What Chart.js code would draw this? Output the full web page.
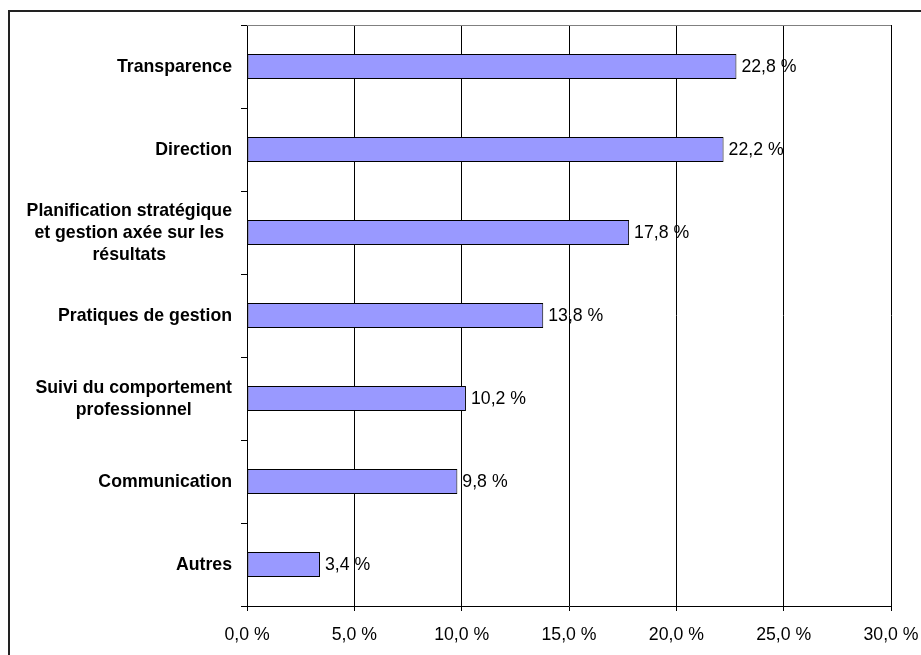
<!DOCTYPE html>
<html>
<head>
<meta charset="utf-8">
<script src="https://cdn.jsdelivr.net/npm/chart.js@4/dist/chart.umd.min.js"></script>
<style>
  html, body { margin: 0; padding: 0; background: #fff; }
  #wrap { width: 921px; height: 655px; }
</style>
</head>
<body>
<div id="wrap"><canvas id="chart" width="921" height="655"></canvas></div>
<script>
// --- data ---
const categories = [
    ['Transparence'],
    ['Direction'],
    ['Planification stratégique', 'et gestion axée sur les', 'résultats'],
    ['Pratiques de gestion'],
    ['Suivi du comportement', 'professionnel'],
    ['Communication'],
    ['Autres']
];
const shares = [22.8, 22.2, 17.8, 13.8, 10.2, 9.8, 3.4];
const xTicks = [0, 5, 10, 15, 20, 25, 30];

const FONT = '"Liberation Sans", Arial, sans-serif';
const FSIZE = 17.7;
const fmt = v => v.toFixed(1).replace('.', ',') + ' %';

// white page + outer frame (runs off the right/bottom edge like the original)
const framePlugin = {
    id: 'frame',
    beforeDraw(chart) {
        const ctx = chart.ctx;
        ctx.save();
        ctx.fillStyle = '#fff';
        ctx.fillRect(0, 0, chart.width, chart.height);
        ctx.strokeStyle = '#222';
        ctx.lineWidth = 2;
        ctx.strokeRect(9, 11, 1000, 1000);
        ctx.restore();
    },
    beforeDatasetsDraw(chart) {
        const { ctx, chartArea: a } = chart;
        ctx.save();
        ctx.strokeStyle = '#808080';
        ctx.lineWidth = 1;
        ctx.beginPath();
        ctx.moveTo(a.left, Math.round(a.top) + 0.5);
        ctx.lineTo(a.right, Math.round(a.top) + 0.5);
        ctx.stroke();
        ctx.restore();
    }
};

// category labels: lines centred on each other, block right-aligned to the axis
const yLabelPlugin = {
    id: 'yLabels',
    afterDraw(chart) {
        const ctx = chart.ctx;
        const yScale = chart.scales.y;
        const right = yScale.right - 15;
        const lineH = 22;
        ctx.save();
        ctx.font = 'bold ' + FSIZE + 'px ' + FONT;
        ctx.fillStyle = '#000';
        ctx.textAlign = 'center';
        ctx.textBaseline = 'middle';
        categories.forEach((lines, i) => {
            const yc = yScale.getPixelForValue(i) + 1;
            const maxW = Math.max(...lines.map(l => ctx.measureText(l).width));
            const cx = right - maxW / 2;
            const y0 = yc - (lines.length - 1) * lineH / 2;
            lines.forEach((l, j) => ctx.fillText(l, cx, y0 + j * lineH));
        });
        ctx.restore();
    }
};

// value labels at the end of each bar
const valueLabelPlugin = {
    id: 'valueLabels',
    afterDatasetsDraw(chart) {
        const ctx = chart.ctx;
        const meta = chart.getDatasetMeta(0);
        ctx.save();
        ctx.font = FSIZE + 'px ' + FONT;
        ctx.fillStyle = '#000';
        ctx.textAlign = 'left';
        ctx.textBaseline = 'middle';
        meta.data.forEach((bar, i) => {
            ctx.fillText(fmt(shares[i]), bar.x + 5, bar.y + 1);
        });
        ctx.restore();
    }
};

new Chart(document.getElementById('chart'), {
    type: 'bar',
    data: {
        labels: categories,
        datasets: [{
            data: shares,
            backgroundColor: '#9999ff',
            borderColor: '#000',
            borderWidth: 1,
            borderSkipped: false,
            categoryPercentage: 1,
            barPercentage: 0.3
        }]
    },
    options: {
        indexAxis: 'y',
        responsive: false,
        devicePixelRatio: 1,
        animation: false,
        layout: { padding: { left: 0, top: 25, right: 30, bottom: 0 } },
        plugins: {
            legend: { display: false },
            tooltip: { enabled: false }
        },
        scales: {
            x: {
                min: 0,
                max: 30,
                afterBuildTicks: s => { s.ticks = xTicks.map(v => ({ value: v })); },
                afterFit: s => { s.height = 49; s.paddingLeft = 0; s.paddingRight = 0; },
                ticks: {
                    color: '#000',
                    font: { family: FONT, size: FSIZE },
                    padding: 13,
                    maxRotation: 0,
                    callback: v => fmt(v)
                },
                grid: { color: '#000', lineWidth: 1, tickLength: 5 },
                border: { color: '#000', width: 1 }
            },
            y: {
                afterFit: s => { s.width = 247; },
                ticks: { display: false },
                grid: { drawOnChartArea: false, color: '#000', lineWidth: 1, tickLength: 6, offset: true },
                border: { color: '#000', width: 1 }
            }
        }
    },
    plugins: [framePlugin, yLabelPlugin, valueLabelPlugin]
});
</script>
</body>
</html>
